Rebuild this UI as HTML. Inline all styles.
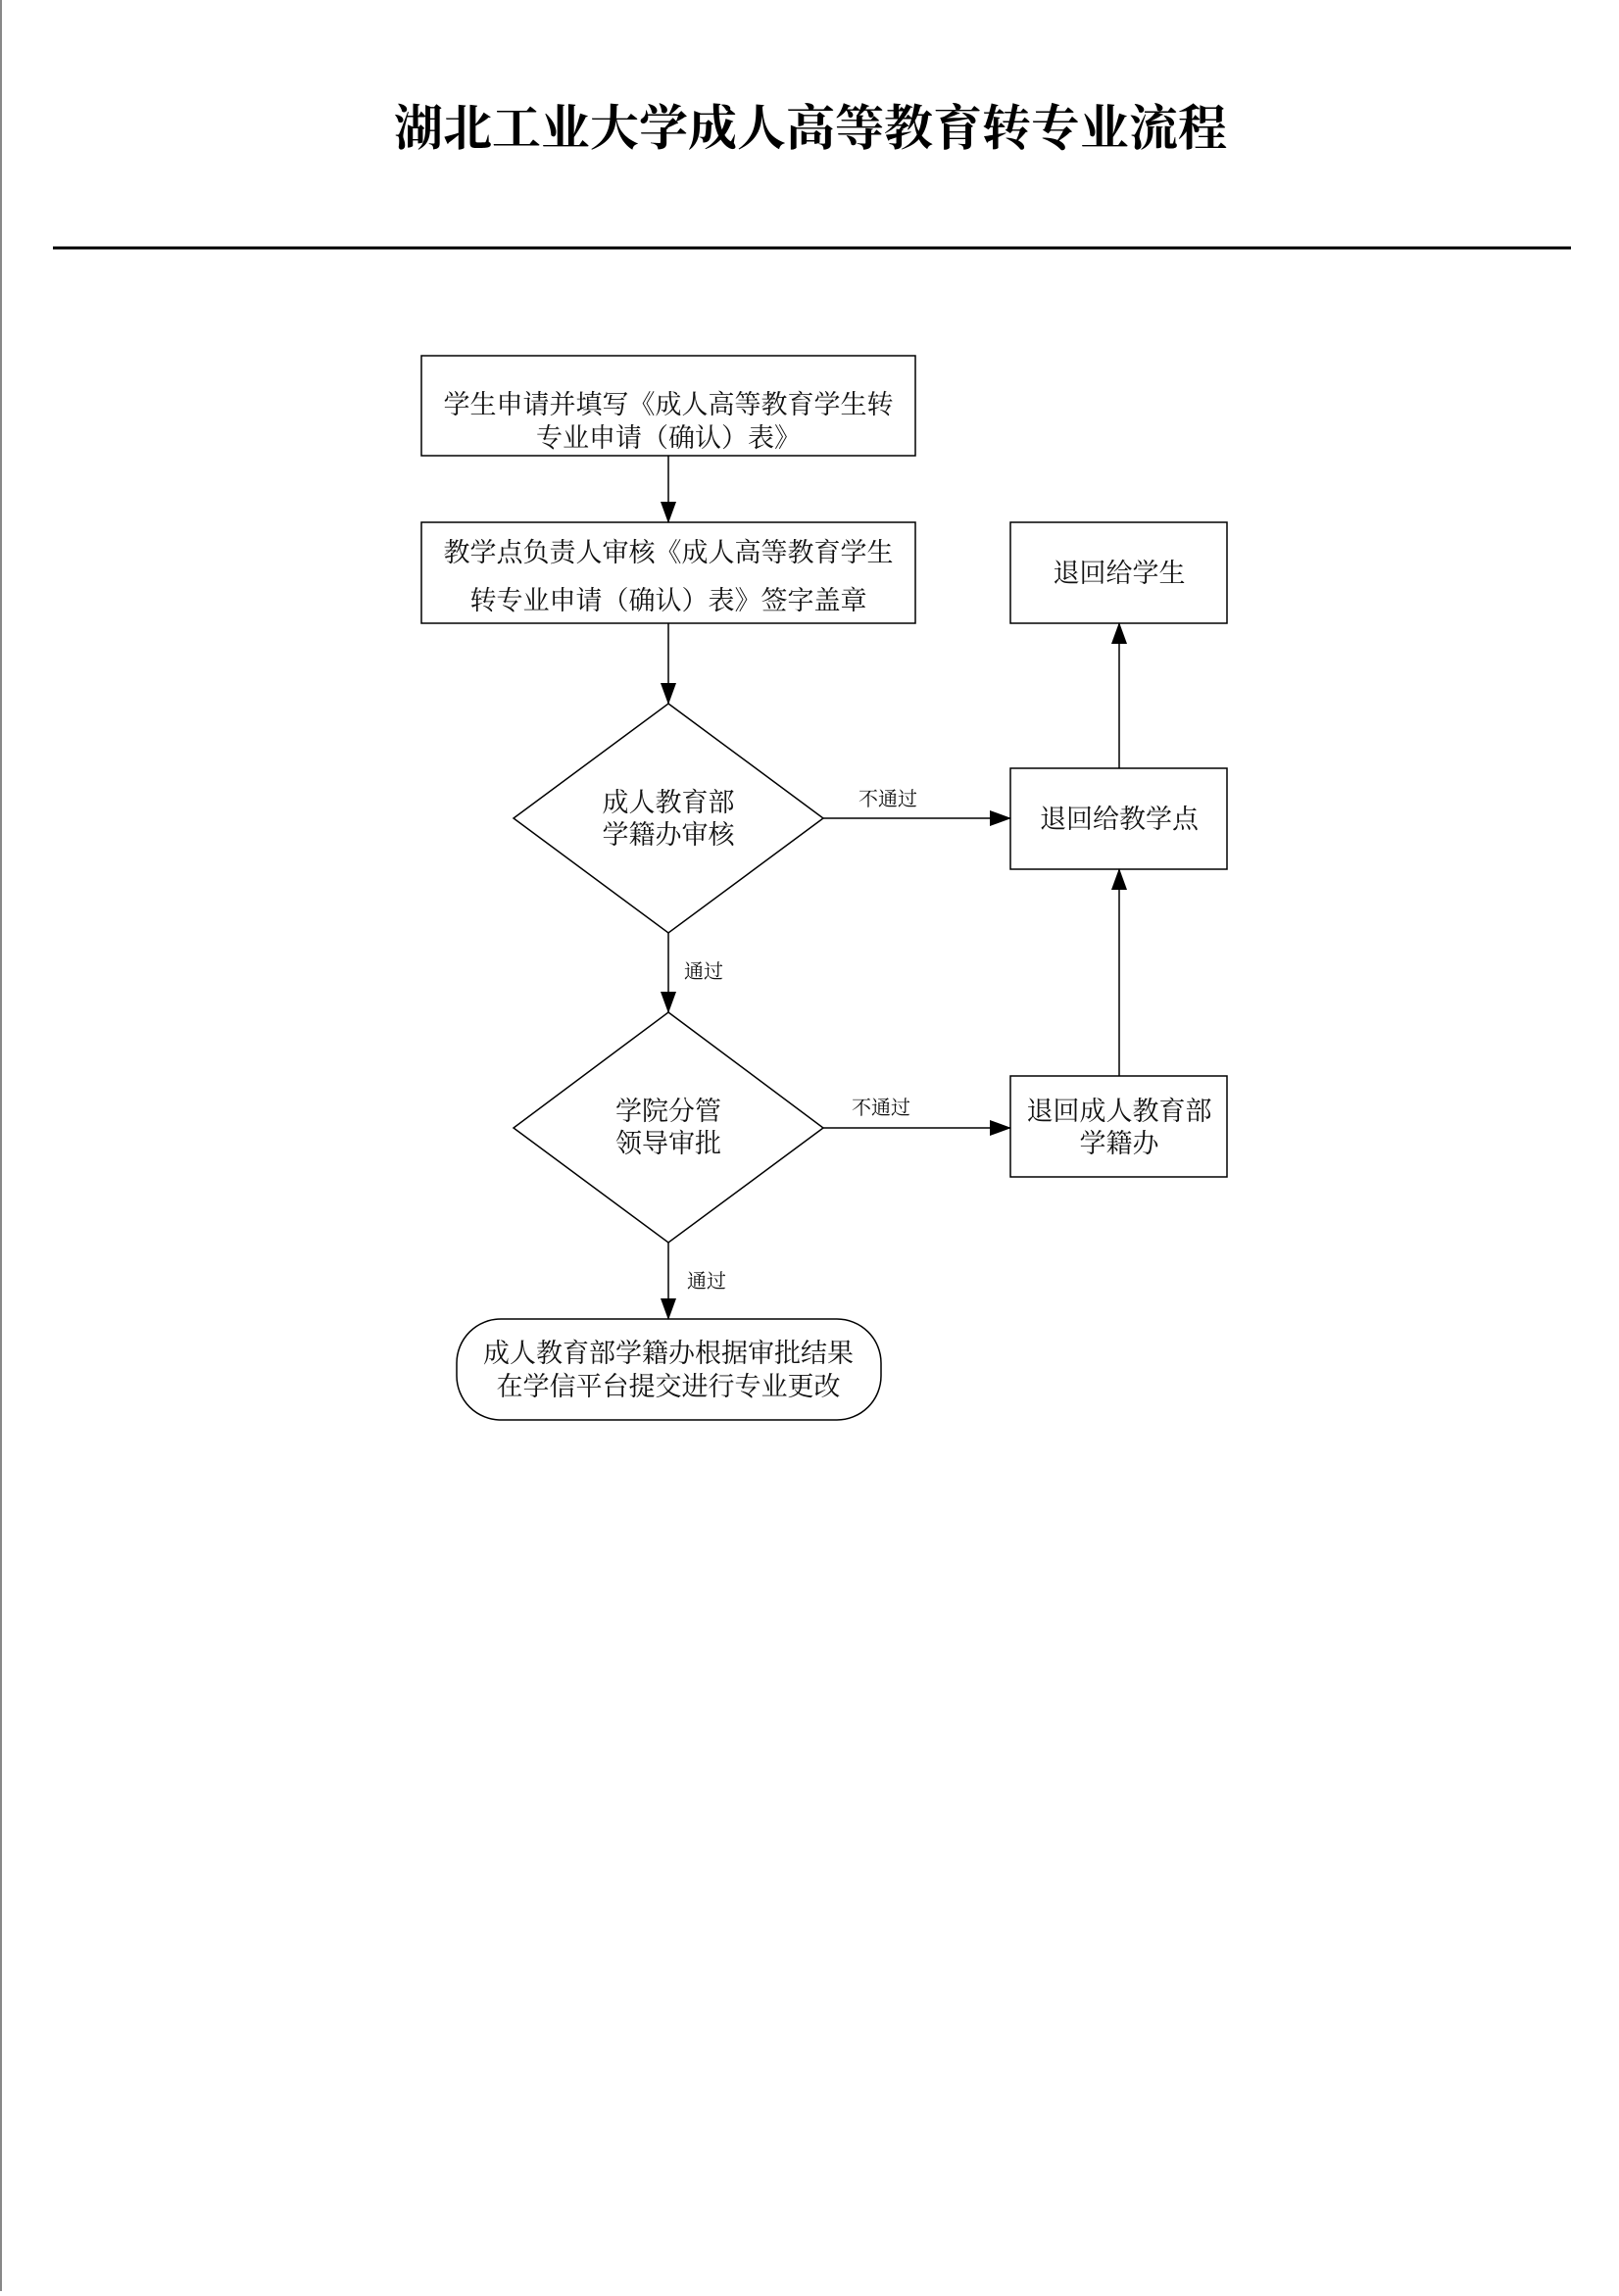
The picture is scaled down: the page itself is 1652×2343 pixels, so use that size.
<!DOCTYPE html>
<html><head><meta charset="utf-8"><style>
html,body{margin:0;padding:0;background:#fff;}
body{width:1652px;height:2338px;overflow:hidden;}
</style></head><body>
<svg width="1652" height="2338" xmlns="http://www.w3.org/2000/svg" font-family="'Liberation Serif','Noto Serif CJK SC',serif">
<defs><marker id="b" markerWidth="22" markerHeight="22" refX="21" refY="8" orient="auto" markerUnits="userSpaceOnUse"><path d="M0,0 L22,8 L0,16 z" fill="#000"/></marker></defs>
<line x1="1" y1="0" x2="1" y2="2338" stroke="#888" stroke-width="2"/>
<text x="827" y="148" font-size="50" font-weight="bold" text-anchor="middle">湖北工业大学成人高等教育转专业流程</text>
<line x1="54" y1="253" x2="1603" y2="253" stroke="#000" stroke-width="3"/>
<g fill="none" stroke="#000" stroke-width="1.5">
<rect x="430" y="363" width="504" height="102"/>
<rect x="430" y="533" width="504" height="103"/>
<polygon points="682,718 840,835 682,952 524,835"/>
<polygon points="682,1033 840,1151 682,1268 524,1151"/>
<rect x="466" y="1346" width="433" height="103" rx="45"/>
<rect x="1031" y="533" width="221" height="103"/>
<rect x="1031" y="784" width="221" height="103"/>
<rect x="1031" y="1098" width="221" height="103"/>
<line x1="682" y1="465" x2="682" y2="533" marker-end="url(#b)"/>
<line x1="682" y1="636" x2="682" y2="718" marker-end="url(#b)"/>
<line x1="682" y1="952" x2="682" y2="1033" marker-end="url(#b)"/>
<line x1="682" y1="1268" x2="682" y2="1346" marker-end="url(#b)"/>
<line x1="840" y1="835" x2="1031" y2="835" marker-end="url(#b)"/>
<line x1="840" y1="1151" x2="1031" y2="1151" marker-end="url(#b)"/>
<line x1="1142" y1="1098" x2="1142" y2="887" marker-end="url(#b)"/>
<line x1="1142" y1="784" x2="1142" y2="636" marker-end="url(#b)"/>
</g>
<g font-size="27" text-anchor="middle" fill="#111">
<text x="682" y="422">学生申请并填写《成人高等教育学生转</text>
<text x="682" y="456">专业申请（确认）表》</text>
<text x="682" y="573">教学点负责人审核《成人高等教育学生</text>
<text x="682" y="622">转专业申请（确认）表》签字盖章</text>
<text x="682" y="828">成人教育部</text>
<text x="682" y="861">学籍办审核</text>
<text x="682" y="1143">学院分管</text>
<text x="682" y="1176">领导审批</text>
<text x="682" y="1390">成人教育部学籍办根据审批结果</text>
<text x="682" y="1424">在学信平台提交进行专业更改</text>
<text x="1142" y="594">退回给学生</text>
<text x="1142" y="845">退回给教学点</text>
<text x="1142" y="1143">退回成人教育部</text>
<text x="1142" y="1176">学籍办</text>
</g>
<g font-size="20" text-anchor="middle" fill="#111">
<text x="906" y="822">不通过</text>
<text x="899" y="1137">不通过</text>
<text x="718" y="998">通过</text>
<text x="721" y="1314">通过</text>
</g>
</svg>
</body></html>
